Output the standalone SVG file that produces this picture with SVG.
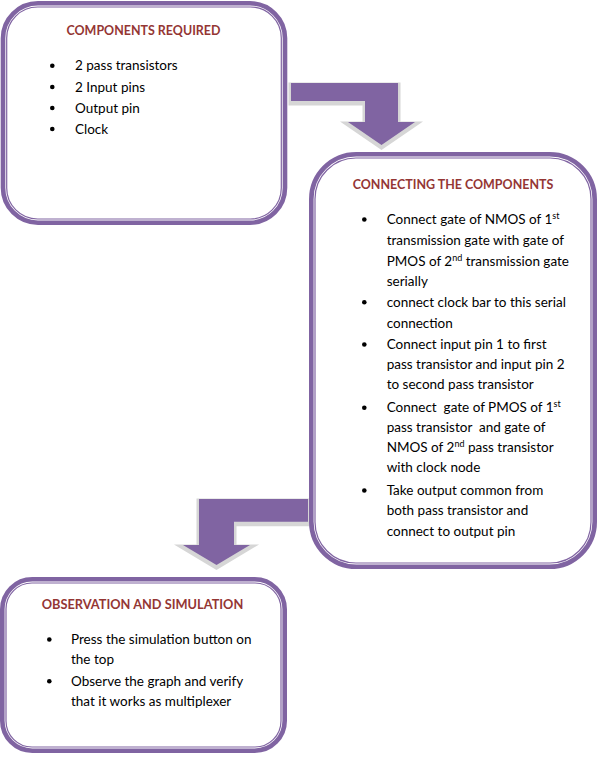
<svg xmlns="http://www.w3.org/2000/svg" width="609" height="784" viewBox="0 0 609 784">
<defs>
<style>
.thick{fill:#fff;stroke:#8064A2;stroke-width:4.6}
.thin{fill:none;stroke:#8064A2;stroke-width:1.2}
.h{font-family:Lato,"Liberation Sans",sans-serif;font-size:13.5px;font-weight:bold;fill:#943634;text-anchor:middle}
.t{font-family:Lato,"Liberation Sans",sans-serif;font-size:13.5px;fill:#000;white-space:pre}
.sup{font-size:9px}
.b{fill:#000}
.arr{fill:#8064A2}
.sh{fill:#d6d6d6;stroke:#d6d6d6;stroke-width:5;stroke-linejoin:miter}
</style>
</defs>
<rect width="609" height="784" fill="#fff"/>
<g id="connectors">
<g id="arrow1">
<path class="sh" transform="translate(0,2)" d="M291,83 H398 V122 H415 L381.5,145 L348,122 H365 V101 H291 Z"/>
<path class="arr" d="M291,83 H398 V122 H415 L381.5,145 L348,122 H365 V101 H291 Z"/>
</g>
<g id="arrow2">
<path class="sh" transform="translate(0,2)" d="M308,499 V521.7 H234 V545 H250 L216.5,565 L183,545 H199 V499 Z"/>
<path class="arr" d="M308,499 V521.7 H234 V545 H250 L216.5,565 L183,545 H199 V499 Z"/>
</g>
</g>
<g id="components-required">
<rect class="thick" x="3" y="3.3" width="282" height="219.4" rx="35" ry="35"/>
<rect class="thin" x="6.7" y="7" width="274.6" height="212" rx="31" ry="31"/>
<text class="h" x="143.5" y="35" textLength="154" lengthAdjust="spacingAndGlyphs">COMPONENTS REQUIRED</text>
<circle class="b" cx="52.3" cy="65.8" r="2.3"/>
<circle class="b" cx="52.3" cy="87" r="2.3"/>
<circle class="b" cx="52.3" cy="108" r="2.3"/>
<circle class="b" cx="52.3" cy="129" r="2.3"/>
<text class="t" x="75" y="70.3">2 pass transistors</text>
<text class="t" x="75" y="91.5">2 Input pins</text>
<text class="t" x="75" y="112.5">Output pin</text>
<text class="t" x="75" y="133.5">Clock</text>
</g>
<g id="connecting-components">
<rect class="thick" x="311.3" y="154.3" width="283.4" height="412.4" rx="45" ry="45"/>
<rect class="thin" x="315" y="158" width="276" height="405" rx="41" ry="41"/>
<text class="h" x="453" y="189" textLength="200.6" lengthAdjust="spacingAndGlyphs">CONNECTING THE COMPONENTS</text>
<circle class="b" cx="364.3" cy="219.5" r="2.3"/>
<circle class="b" cx="364.3" cy="302.2" r="2.3"/>
<circle class="b" cx="364.3" cy="344.5" r="2.3"/>
<circle class="b" cx="364.3" cy="407.8" r="2.3"/>
<circle class="b" cx="364.3" cy="490.5" r="2.3"/>
<text class="t" x="386.7" y="224">Connect gate of NMOS of 1<tspan class="sup" dy="-5">st</tspan></text>
<text class="t" x="386.7" y="245">transmission gate with gate of</text>
<text class="t" x="386.7" y="265.7">PMOS of 2<tspan class="sup" dy="-5">nd</tspan><tspan dy="5"> transmission gate</tspan></text>
<text class="t" x="386.7" y="286">serially</text>
<text class="t" x="386.7" y="306.7">connect clock bar to this serial</text>
<text class="t" x="386.7" y="327.7">connection</text>
<text class="t" x="386.7" y="349">Connect input pin 1 to first</text>
<text class="t" x="386.7" y="369.3">pass transistor and input pin 2</text>
<text class="t" x="386.7" y="389.3">to second pass transistor</text>
<text class="t" x="386.7" y="412.3">Connect  gate of PMOS of 1<tspan class="sup" dy="-5">st</tspan></text>
<text class="t" x="386.7" y="431.7">pass transistor  and gate of</text>
<text class="t" x="386.7" y="452.3">NMOS of 2<tspan class="sup" dy="-5">nd</tspan><tspan dy="5"> pass transistor</tspan></text>
<text class="t" x="386.7" y="472.3">with clock node</text>
<text class="t" x="386.7" y="495">Take output common from</text>
<text class="t" x="386.7" y="515.3">both pass transistor and</text>
<text class="t" x="386.7" y="535.7">connect to output pin</text>
</g>
<g id="observation-simulation">
<rect class="thick" x="2.3" y="579.3" width="282.4" height="171.4" rx="30" ry="30"/>
<rect class="thin" x="6" y="583" width="275" height="164" rx="26" ry="26"/>
<text class="h" x="142.5" y="609" textLength="201.6" lengthAdjust="spacingAndGlyphs">OBSERVATION AND SIMULATION</text>
<circle class="b" cx="49.3" cy="639.5" r="2.3"/>
<circle class="b" cx="49.3" cy="681.2" r="2.3"/>
<text class="t" x="71" y="644">Press the simulation button on</text>
<text class="t" x="71" y="664">the top</text>
<text class="t" x="71" y="685.7">Observe the graph and verify</text>
<text class="t" x="71" y="705.7">that it works as multiplexer</text>
</g>
</svg>
